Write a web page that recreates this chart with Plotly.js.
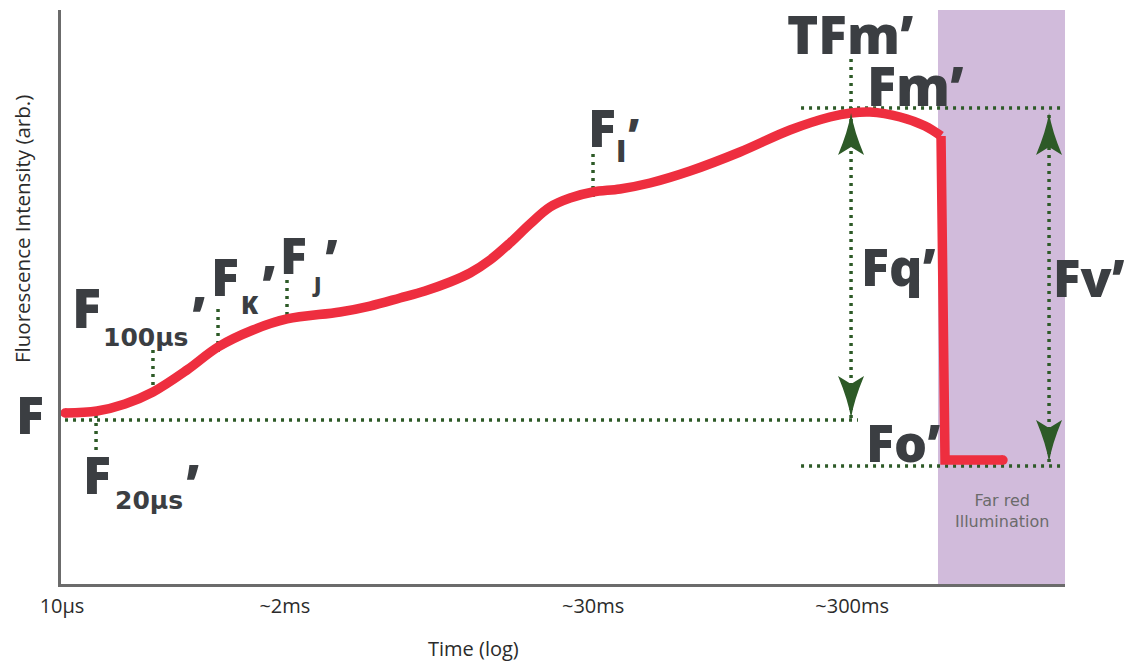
<!DOCTYPE html>
<html>
<head>
<meta charset="utf-8">
<script src="https://cdn.plot.ly/plotly-3.0.1.min.js"></script>
<style>
  html, body { margin: 0; padding: 0; background: #fff; }
  #chart { width: 1126px; height: 664px; }
</style>
</head>
<body>
<div id="chart"></div>
<script>
// Chlorophyll fluorescence induction (OJIP) under actinic light, then far-red step.
// x: schematic log-time position (0-100), y: fluorescence intensity (arb., 0-100)

// rise from F' through FK', FJ', FI' to the peak Fm'
const timePos = [0.40, 3.59, 6.37, 9.16, 12.55, 15.64, 19.12, 22.51, 27.79, 30.78,
                 33.76, 36.25, 38.75, 40.74, 42.73, 44.72, 46.71, 48.71, 50.70, 52.99,
                 55.68, 58.67, 62.65, 67.63, 72.61, 76.59, 78.69, 80.58, 83.57, 86.06,
                 87.65];
const intensity = [29.79, 30.14, 31.36, 33.45, 37.28, 41.29, 44.25, 46.17, 47.39, 48.43,
                   49.83, 51.05, 52.61, 54.18, 56.45, 59.41, 62.72, 65.68, 67.25, 68.29,
                   68.82, 69.86, 71.95, 75.26, 79.09, 81.36, 82.06, 82.23, 81.36, 79.79,
                   78.05];

// drop to Fo' once the far-red light is switched on
const dropTime = [88.05, 93.82];
const dropIntensity = [21.60, 21.60];

// far-red illumination window
const farRedSpan = [87.35, 100];

// probe points: F20µs', F100µs', FK', FJ', FI'
const probeTime = [3.49, 9.16, 15.64, 22.51, 52.99];
const probeLow  = [23.34, 33.28, 40.42, 45.47, 67.42];
const probeHigh = [31.18, 40.77, 48.61, 53.48, 75.09];

// reference levels: F', Fm', Fo'
const levelValue = [28.57, 82.93, 20.56];
const levelStart = [0.40, 73.71, 73.71];
const levelEnd   = [79.38, 99.80, 99.80];

// time of Fm' (TFm')
const tfmTime = 78.69;
const tfmRange = [82.58, 91.81];

// double arrows: Fq' and Fv'
const arrowX = [78.69, 98.41];
const arrowTop = [82.06, 82.06];
const arrowBottom = [28.92, 21.25];

// axis ticks
const tickPos = [0.1, 22.3, 53.0, 78.8];
const tickLabels = ['10µs', '~2ms', '~30ms', '~300ms'];

const RED = '#EE2E3F';
const GREEN = '#2D5A27';
const INK = '#3B3E42';
const DOT = '3px,5px';

// join several segments into one trace with null breaks
function segments(xs0, xs1, ys0, ys1) {
  const x = [], y = [];
  for (let i = 0; i < xs0.length; i++) {
    x.push(xs0[i], xs1[i], null);
    y.push(ys0[i], ys1[i], null);
  }
  return { x, y };
}

const probes = segments(probeTime, probeTime, probeLow, probeHigh);
const levels = segments(levelStart, levelEnd, levelValue, levelValue);
const arrows = segments(arrowX, arrowX, arrowBottom, arrowTop);

const traces = [
  { x: levels.x, y: levels.y, mode: 'lines', connectgaps: false,
    line: { color: GREEN, width: 3.5, dash: DOT }, hoverinfo: 'skip' },
  { x: probes.x, y: probes.y, mode: 'lines', connectgaps: false,
    line: { color: GREEN, width: 3.5, dash: DOT }, hoverinfo: 'skip' },
  { x: arrows.x.concat([tfmTime, tfmTime]), y: arrows.y.concat(tfmRange), mode: 'lines', connectgaps: false,
    line: { color: GREEN, width: 3.5, dash: DOT }, hoverinfo: 'skip' },
  { x: timePos, y: intensity, mode: 'lines',
    line: { color: RED, width: 9.5, shape: 'spline', smoothing: 1 } },
  { x: [timePos[timePos.length - 1]].concat(dropTime),
    y: [intensity[intensity.length - 1]].concat(dropIntensity), mode: 'lines',
    line: { color: RED, width: 9.5 } },
  { x: [timePos[0], dropTime[dropTime.length - 1]],
    y: [intensity[0], dropIntensity[dropIntensity.length - 1]], mode: 'markers',
    marker: { color: RED, size: 9.5 }, hoverinfo: 'skip' }
];

// arrowheads as pixel-sized darts anchored at the arrow tips
const upHead = 'M0,0 Q3,-18 13,-42 L0,-34 L-13,-42 Q-3,-18 0,0 Z';
const downHead = 'M0,0 Q3,18 13,42 L0,34 L-13,42 Q-3,18 0,0 Z';
const shapes = [
  { type: 'rect', xref: 'x', yref: 'paper', x0: farRedSpan[0], x1: farRedSpan[1], y0: 0, y1: 1,
    fillcolor: '#D1BBDB', line: { width: 0 }, layer: 'below' }
];
arrowX.forEach((ax, i) => {
  shapes.push({ type: 'path', xref: 'x', yref: 'y', xsizemode: 'pixel', ysizemode: 'pixel',
    xanchor: ax, yanchor: arrowTop[i], path: upHead, fillcolor: GREEN, line: { width: 0 }, layer: 'above' });
  shapes.push({ type: 'path', xref: 'x', yref: 'y', xsizemode: 'pixel', ysizemode: 'pixel',
    xanchor: ax, yanchor: arrowBottom[i], path: downHead, fillcolor: GREEN, line: { width: 0 }, layer: 'above' });
});

function label(text, x, y, size, extra) {
  return Object.assign({
    text: text, x: x, y: y, xref: 'x', yref: 'y', showarrow: false,
    xanchor: 'center', yanchor: 'middle',
    font: { family: 'Open Sans', size: size, color: INK, weight: 800 }
  }, extra || {});
}
const subFont = (size) => ({ family: 'DejaVu Sans', size: size, color: INK, weight: 700 });

const annotations = [
  // F'
  label('F', -0.0304, 0.2979, 52, { xref: 'paper', yref: 'paper' }),
  // F20µs'
  label('F', 3.54, 19.25, 52),
  label('20µs', 8.76, 14.63, 25, { font: subFont(25) }),
  label('’', 13.05, 17.86, 52),
  // F100µs'
  label('F', 2.54, 48.26, 54),
  label('100µs', 8.37, 42.86, 25, { font: subFont(25) }),
  label('’', 13.65, 47.13, 52),
  // FK'
  label('F', 16.33, 53.66, 52),
  label('K', 18.82, 48.78, 25),
  label('’', 20.62, 52.53, 52),
  // FJ'
  label('F', 23.16, 57.32, 50),
  label('J', 25.40, 52.18, 21),
  label('’', 26.99, 56.97, 50),
  // FI'
  label('F', 53.84, 79.70, 52),
  label('I', 55.73, 75.44, 30),
  label('’', 57.02, 78.48, 44),
  // peak, quenching and variable fluorescence
  label('TFm’', 78.59, 95.9, 53),
  label('Fm’', 85.06, 86.93, 54),
  label('Fq’', 83.37, 55.57, 52),
  label('Fv’', 1.0240, 0.5348, 51, { xref: 'paper', yref: 'paper' }),
  label('Fo’', 83.91, 24.74, 52),
  label('Far red<br>Illumination', 93.73, 12.72, 16,
    { font: { family: 'DejaVu Sans', size: 16, color: '#6B6B6B' } }),
  // axis titles
  { text: 'Fluorescence Intensity (arb.)', xref: 'paper', yref: 'paper', x: -0.0388, y: 0.6185,
    textangle: -90, showarrow: false, xanchor: 'center', yanchor: 'middle',
    font: { family: 'Open Sans', size: 20.5, color: '#2B2B2B' } },
  { text: 'Time (log)', xref: 'paper', yref: 'paper', x: 0.4104, y: -0.1115,
    showarrow: false, xanchor: 'center', yanchor: 'middle',
    font: { family: 'Open Sans', size: 20, color: '#2B2B2B' } }
];

const layout = {
  width: 1126, height: 664,
  margin: { l: 61, r: 61, t: 10, b: 80, pad: 0 },
  paper_bgcolor: '#ffffff', plot_bgcolor: '#ffffff',
  showlegend: false,
  xaxis: {
    range: [0, 100], showgrid: false, zeroline: false,
    showline: true, linecolor: '#6B6B6B', linewidth: 3,
    ticks: '', tickmode: 'array', tickvals: tickPos, ticktext: tickLabels,
    ticklabelstandoff: 2,
    tickfont: { family: 'Open Sans', size: 20, color: '#2B2B2B' },
    fixedrange: true
  },
  yaxis: {
    range: [0, 100], showgrid: false, zeroline: false,
    showline: true, linecolor: '#6B6B6B', linewidth: 3,
    ticks: '', showticklabels: false, fixedrange: true
  },
  shapes: shapes,
  annotations: annotations
};

Plotly.newPlot('chart', traces, layout, { displayModeBar: false, staticPlot: true });
</script>
</body>
</html>
